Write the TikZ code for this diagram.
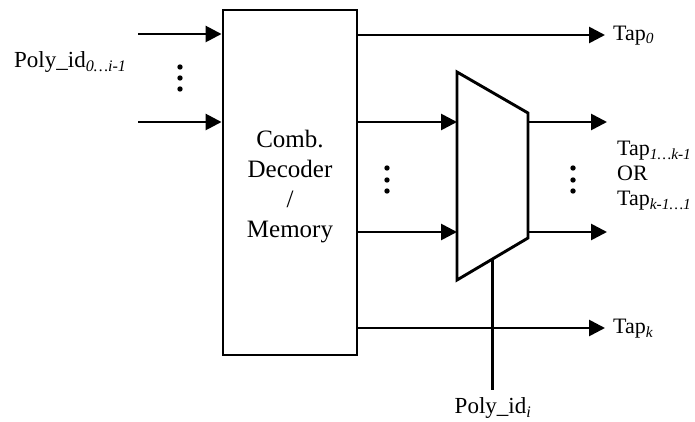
\documentclass[tikz,border=0pt]{standalone}
\usepackage{fontspec}
\setmainfont{Liberation Serif}
\usetikzlibrary{arrows.meta,positioning,calc}

\newcommand{\tsub}[1]{\textsubscript{\textit{#1}}}

\begin{document}
\begin{tikzpicture}[
  x=1pt,y=-1pt,
  every node/.style={font=\fontsize{22}{25}\selectfont,inner sep=0pt},
  block/.style={draw,line width=2.9pt,minimum width=134pt,minimum height=345pt},
  wire/.style={line width=2.7pt,-{Triangle[length=16pt,width=16pt]}},
  seldraw/.style={line width=3.8pt},
  muxdraw/.style={line width=2.9pt,line join=miter},
  idlabel/.style={font=\fontsize{23}{27}\selectfont}
]
\useasboundingbox (0,0) rectangle (695,422);

% decoder / memory block
\node[block] (dec) at (290,182.5) {};
\node[align=center,font=\fontsize{25}{30}\selectfont] (dectxt)
  at ($(dec.center)+(0,4)$) {Comb.\\Decoder\\/\\Memory};

% inputs
\coordinate (in1) at (138,34);
\coordinate (in2) at (138,122);
\draw[wire] (in1) -- (in1 -| dec.west);
\draw[wire] (in2) -- (in2 -| dec.west);
\node[idlabel,anchor=base west] (pin) at (14,68) {Poly\_id\tsub{0…i-1}};
\foreach \dy in {67,78,89} \fill (180,\dy) circle (2.7pt);

% mux
\coordinate (m1) at (457,72);
\coordinate (m2) at (528,113);
\coordinate (m3) at (528,238);
\coordinate (m4) at (457,280);
\draw[muxdraw] (m1) -- (m2) -- (m3) -- (m4) -- cycle;

\coordinate (mi1) at (457,122);
\coordinate (mi2) at (457,232);
\draw[wire] (dec.east |- mi1) -- (mi1);
\draw[wire] (dec.east |- mi2) -- (mi2);
\foreach \dy in {168,180,191} \fill (387,\dy) circle (2.7pt);

\coordinate (mo1) at (528,122);
\coordinate (mo2) at (528,232);
\coordinate (to1) at (607,122);
\coordinate (to2) at (607,232);
\draw[wire] (mo1) -- (to1);
\draw[wire] (mo2) -- (to2);
\foreach \dy in {168,180,191} \fill (573,\dy) circle (2.7pt);
\node[anchor=north west,align=left] (tmid) at (617,141)
  {Tap\tsub{1…k-1}\\OR\\Tap\tsub{k-1…1}};

% direct taps
\coordinate (t0) at (605,35);
\coordinate (tk) at (605,328);
\draw[wire] (dec.east |- t0) -- (t0);
\draw[wire] (dec.east |- tk) -- (tk);
\node[anchor=west] (tap0) at (613,36) {Tap\tsub{0}};
\node[anchor=west] (tapk) at (613,329) {Tap\tsub{k}};

% select
\coordinate (sel) at ($(m4)!0.5!(m3)$);
\node[idlabel] (pid) at (493,408) {Poly\_id\tsub{i}};
\coordinate (selend) at (sel |- 0,390);
\draw[seldraw] (sel) -- (selend);
\end{tikzpicture}
\end{document}
